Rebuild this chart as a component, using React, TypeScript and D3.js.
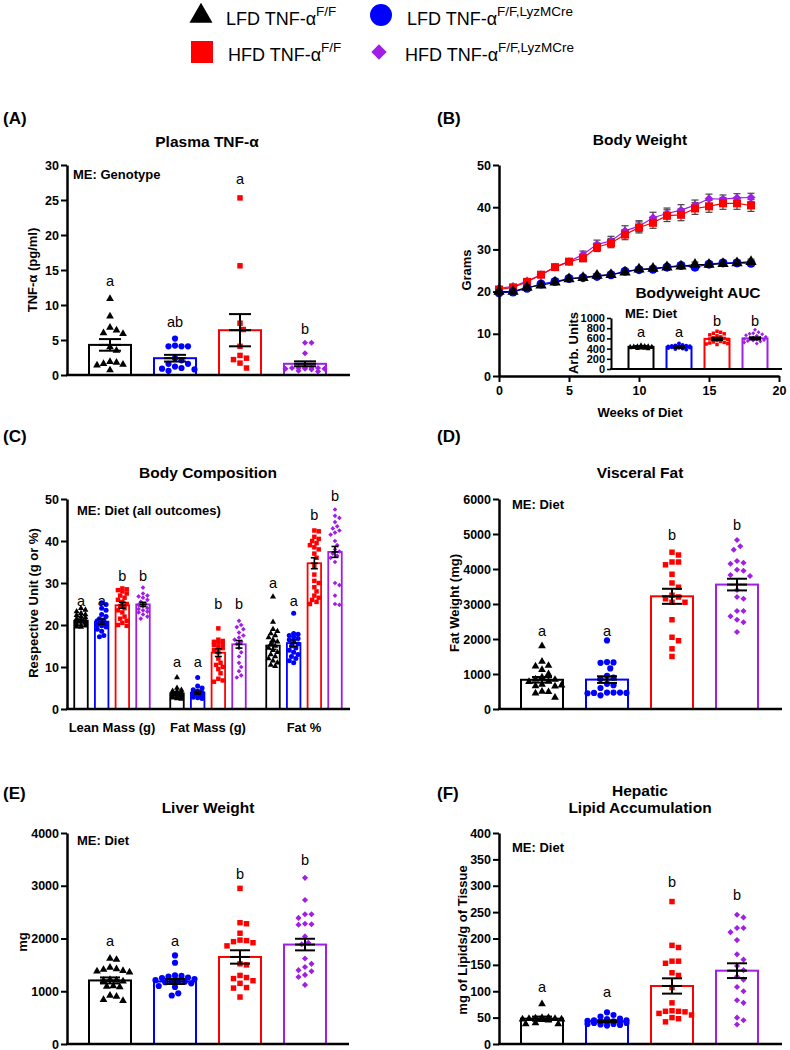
import React, { useRef, useEffect } from "react";
import * as d3 from "d3";

const FONT = "'Liberation Sans', Arial, Helvetica, sans-serif";

// groups (order: LFD F/F, LFD LyzMCre, HFD F/F, HFD LyzMCre)
const groupColors = ["#000000", "#0000ff", "#ff0000", "#a01ee6"];
const diamond = (d3 as any).symbolDiamond2 || d3.symbolDiamond;
const groupSymbols = [d3.symbolTriangle, d3.symbolCircle, d3.symbolSquare, diamond];
const legendMain = ["LFD TNF-\u03b1", "LFD TNF-\u03b1", "HFD TNF-\u03b1", "HFD TNF-\u03b1"];
const legendSup = ["F/F", "F/F,LyzMCre", "F/F", "F/F,LyzMCre"];

// (A) Plasma TNF-α
const tnfPoints = [
  [10.9, 8.4, 6.8, 6.4, 6.0, 5.9, 4.0, 3.5, 1.9, 1.8, 1.6, 1.5, 1.4, 0.7],
  [5.2, 4.2, 4.1, 4.1, 4.1, 2.4, 2.1, 1.6, 1.6, 1.2, 1.0, 0.9, 0.8, 0.6],
  [25.3, 15.6, 7.4, 6.5, 4.1, 2.8, 2.4, 2.2, 1.7, 1.0],
  [4.6, 4.6, 3.1, 1.0, 1.0, 1.0, 0.9, 0.9, 0.9, 1.0, 1.1, 0.8, 0.6, 0.5],
];
const tnfMeans = [4.3, 2.4, 6.4, 1.6];
const tnfSems = [0.83, 0.48, 2.3, 0.35];
const tnfLetters = ["a", "ab", "a", "b"];
const tnfLetterAt = [13.3, 7.4, 27.9, 6.4];
const tnfTicks = [0, 5, 10, 15, 20, 25, 30];

// (B) Body weight
const weeks = [0, 1, 2, 3, 4, 5, 6, 7, 8, 9, 10, 11, 12, 13, 14, 15, 16, 17, 18];
const bwMeans = [
  [20.0, 20.0, 21.0, 21.5, 22.2, 23.0, 23.3, 23.8, 24.0, 24.6, 25.3, 25.5, 25.8, 26.0, 26.4, 26.4, 26.6, 26.8, 27.1],
  [19.7, 19.9, 20.8, 21.8, 22.4, 23.1, 23.3, 23.6, 24.0, 24.8, 25.2, 25.3, 25.8, 26.2, 25.8, 26.5, 26.8, 26.8, 26.7],
  [20.5, 21.0, 22.3, 24.0, 25.8, 27.1, 27.9, 30.5, 31.5, 33.5, 35.2, 36.3, 38.0, 38.2, 39.7, 40.2, 40.9, 40.9, 40.4],
  [20.8, 21.2, 22.5, 24.0, 25.8, 27.1, 28.8, 31.2, 32.0, 34.4, 35.5, 37.5, 38.5, 39.3, 40.5, 42.0, 41.9, 42.2, 42.3],
];
const bwSems = [
  [0.3, 0.3, 0.3, 0.4, 0.4, 0.4, 0.4, 0.4, 0.5, 0.5, 0.5, 0.5, 0.5, 0.5, 0.6, 0.6, 0.6, 0.6, 0.6],
  [0.3, 0.3, 0.3, 0.4, 0.4, 0.4, 0.4, 0.4, 0.5, 0.5, 0.5, 0.5, 0.5, 0.5, 0.6, 0.6, 0.6, 0.6, 0.6],
  [0.4, 0.4, 0.5, 0.5, 0.6, 0.6, 0.8, 1.0, 1.1, 1.2, 1.3, 1.3, 1.4, 1.4, 1.4, 1.4, 1.4, 1.4, 1.4],
  [0.4, 0.4, 0.5, 0.5, 0.6, 0.6, 0.8, 1.0, 1.1, 1.2, 1.3, 1.3, 1.3, 1.3, 1.2, 1.1, 1.0, 1.0, 1.0],
];
const bwDrawOrder = [3, 2, 1, 0];
const bwXTicks = [0, 5, 10, 15, 20];
const bwYTicks = [0, 10, 20, 30, 40, 50];

// (B) inset: Bodyweight AUC
const aucPoints = [
  [470, 455, 450, 450, 445, 440, 440, 435, 430, 430, 425, 420, 420, 415, 410, 405, 400, 395],
  [500, 470, 460, 455, 450, 445, 440, 440, 435, 430, 430, 425, 420, 415, 410, 400, 390, 380],
  [740, 720, 700, 690, 670, 650, 630, 610, 600, 590, 580, 560, 540, 530, 520, 510, 500, 490, 480],
  [770, 720, 700, 690, 680, 660, 650, 630, 620, 610, 600, 590, 580, 570, 560, 550, 540, 520, 500],
];
const aucMeans = [435, 432, 590, 600];
const aucSems = [6, 7, 15, 14];
const aucLetters = ["a", "a", "b", "b"];
const aucLetterAt = [706, 706, 922, 922];
const aucTicks = [0, 200, 400, 600, 800, 1000];

// (C) Body composition
const compCats = ["Lean Mass (g)", "Fat Mass (g)", "Fat %"];
const compPoints = [
  [
    [24.0, 23.6, 23.2, 22.8, 22.5, 22.3, 22.0, 21.8, 21.5, 21.2, 21.0, 20.9, 20.8, 20.5, 20.2, 20.0, 19.8, 19.6, 19.5],
    [25.3, 24.9, 24.0, 23.5, 22.5, 22.0, 21.5, 21.2, 21.0, 20.5, 20.3, 20.0, 19.8, 19.5, 19.0, 18.5, 17.5, 17.2],
    [28.7, 28.5, 28.3, 28.0, 27.5, 27.0, 26.5, 26.0, 25.5, 25.0, 24.5, 24.0, 23.5, 23.0, 22.0, 21.5, 21.0, 20.5, 20.0, 19.8],
    [28.9, 27.5, 27.0, 26.8, 26.5, 26.0, 25.5, 25.0, 24.8, 24.5, 24.0, 23.8, 23.5, 23.2, 23.0, 22.5, 22.0, 21.5],
  ],
  [
    [7.5, 5.0, 4.5, 4.3, 4.2, 4.0, 3.8, 3.7, 3.6, 3.5, 3.4, 3.2, 3.0, 3.0, 2.8, 2.7, 2.5, 2.4],
    [7.5, 5.5, 5.0, 4.6, 4.3, 4.0, 3.9, 3.8, 3.7, 3.5, 3.3, 3.0, 2.8, 2.7, 2.5],
    [19.2, 16.5, 16.2, 16.0, 15.8, 15.5, 15.2, 14.8, 14.5, 14.0, 13.5, 12.0, 11.0, 10.5, 10.0, 9.5, 8.5, 7.2, 6.8, 6.5],
    [21.0, 20.0, 19.5, 19.0, 18.2, 17.5, 17.0, 16.5, 16.0, 15.5, 14.5, 13.5, 12.5, 11.0, 10.0, 9.0, 8.0, 7.5],
  ],
  [
    [26.7, 20.7, 19.0, 18.5, 18.0, 17.5, 17.0, 16.5, 16.0, 15.5, 15.0, 14.5, 14.0, 13.5, 13.0, 12.5, 12.0, 11.5, 11.0, 10.5, 10.2],
    [22.8, 18.0, 17.8, 17.5, 17.2, 16.8, 16.5, 16.0, 15.5, 15.0, 14.5, 14.0, 13.5, 13.0, 12.5, 12.0, 11.5, 11.0],
    [42.5, 42.3, 41.0, 40.5, 40.0, 39.5, 39.0, 38.5, 38.0, 37.0, 36.0, 34.0, 32.0, 30.5, 30.0, 29.0, 28.0, 27.0, 26.5, 26.0, 25.5, 25.0],
    [47.5, 46.0, 45.5, 44.5, 43.5, 43.0, 42.5, 42.0, 41.5, 40.0, 39.0, 38.0, 37.5, 37.0, 36.5, 36.0, 35.0, 30.0, 29.5, 27.0, 25.0, 24.8],
  ],
];
const compMeans = [
  [21.0, 20.8, 24.7, 24.9],
  [3.7, 3.9, 13.4, 15.4],
  [15.1, 15.7, 34.7, 37.4],
];
const compSems = [
  [0.4, 0.6, 0.7, 0.5],
  [0.3, 0.35, 0.9, 0.9],
  [0.9, 0.8, 1.3, 1.3],
];
const compLetters = [
  ["a", "a", "b", "b"],
  ["a", "a", "b", "b"],
  ["a", "a", "b", "b"],
];
const compLetterAt = [
  [25.6, 25.6, 31.5, 31.5],
  [10.9, 10.9, 24.8, 24.8],
  [29.8, 25.4, 46.0, 50.4],
];
const compTicks = [0, 10, 20, 30, 40, 50];

// (D) Visceral fat
const vfPoints = [
  [1800, 1360, 1240, 1220, 1120, 1000, 910, 850, 840, 790, 780, 700, 680, 660, 650, 500, 490, 450, 330],
  [1960, 1340, 1330, 1320, 1160, 950, 900, 860, 720, 680, 600, 470, 470, 470, 460, 460, 450, 390],
  [4480, 4400, 4200, 4200, 4120, 3850, 3600, 3480, 3250, 3200, 3150, 3050, 3050, 2550, 2050, 1950, 1720, 1500],
  [4830, 4650, 4550, 4230, 4180, 4150, 3980, 3950, 3830, 3800, 3400, 3200, 3150, 2800, 2800, 2650, 2550, 2480, 2200],
];
const vfMeans = [835, 840, 3220, 3555];
const vfSems = [80, 95, 215, 167];
const vfLetters = ["a", "a", "b", "b"];
const vfLetterAt = [2190, 2190, 4933, 5219];
const vfTicks = [0, 1000, 2000, 3000, 4000, 5000, 6000];

// (E) Liver weight
const lwPoints = [
  [1620, 1600, 1450, 1420, 1410, 1390, 1380, 1360, 1220, 1210, 1200, 1190, 1100, 1090, 1080, 920, 900, 840, 820],
  [1680, 1540, 1300, 1290, 1280, 1260, 1250, 1230, 1210, 1200, 1190, 1180, 1170, 1150, 1100, 1080, 960, 920],
  [2950, 2300, 2280, 2100, 1970, 1960, 1940, 1920, 1860, 1520, 1500, 1300, 1260, 1240, 1200, 1150, 1070, 1060, 890],
  [3150, 2730, 2460, 2460, 2390, 2280, 2270, 2260, 2040, 1920, 1890, 1620, 1520, 1460, 1400, 1380, 1310, 1270, 1120],
];
const lwMeans = [1205, 1185, 1650, 1885];
const lwSems = [57, 48, 127, 110];
const lwLetters = ["a", "a", "b", "b"];
const lwLetterAt = [1943, 1943, 3209, 3462];
const lwTicks = [0, 1000, 2000, 3000, 4000];

// (F) Hepatic lipid accumulation
const hlPoints = [
  [76, 50, 50, 49, 48, 48, 47, 47, 46, 45, 40, 38, 38],
  [60, 55, 52, 48, 47, 45, 45, 44, 43, 42, 42, 42, 40, 40, 38, 38, 37, 36, 35],
  [270, 187, 183, 157, 157, 153, 135, 130, 107, 78, 63, 62, 62, 61, 58, 55, 50, 48, 42],
  [245, 240, 220, 220, 212, 197, 170, 160, 148, 140, 128, 122, 108, 100, 83, 78, 50, 45, 37],
];
const hlMeans = [48, 43, 110, 139];
const hlSems = [4, 2, 14.5, 14];
const hlLetters = ["a", "a", "b", "b"];
const hlLetterAt = [107, 97, 306, 280];
const hlTicks = [0, 50, 100, 150, 200, 250, 300, 350, 400];

function beeswarm(vals: number[], y: (v: number) => number, d: number, maxOff: number): number[] {
  const order = d3.range(vals.length).sort((a, b) => d3.descending(vals[a], vals[b]));
  const placed: [number, number][] = [];
  const offs: number[] = new Array(vals.length).fill(0);
  const step = d / 2;
  const n = Math.max(0, Math.floor(maxOff / step));
  const cands = [0];
  for (let k = 1; k <= n; k++) cands.push(k * step, -k * step);
  for (const i of order) {
    const py = y(vals[i]);
    let best = 0;
    let bestCost = Infinity;
    for (const c of cands) {
      let cost = 0;
      for (const [px, qy] of placed) {
        const dist = Math.hypot(px - c, qy - py);
        if (dist < d) cost += d - dist;
      }
      if (cost < bestCost - 1e-9) {
        bestCost = cost;
        best = c;
      }
      if (cost === 0) break;
    }
    placed.push([best, py]);
    offs[i] = best;
  }
  return offs;
}

function text(g: any, x: number, y: number, s: string, size: number, weight = "bold", anchor = "middle", rotate = false) {
  const t = g
    .append("text")
    .attr("x", rotate ? 0 : x)
    .attr("y", rotate ? 0 : y)
    .attr("dy", "0.35em")
    .attr("text-anchor", anchor)
    .attr("font-family", FONT)
    .attr("font-size", size)
    .attr("font-weight", weight)
    .attr("fill", "#000")
    .text(s);
  if (rotate) t.attr("transform", `translate(${x},${y}) rotate(-90)`);
  return t;
}

function styleAxis(ax: any, size: number, weight = "bold", lw = 2.5) {
  ax.select(".domain").attr("stroke", "#000").attr("stroke-width", lw);
  ax.selectAll(".tick line").attr("stroke", "#000").attr("stroke-width", lw * 0.8);
  ax.selectAll(".tick text")
    .attr("font-family", FONT)
    .attr("font-size", size)
    .attr("font-weight", weight)
    .attr("fill", "#000");
}

type BarItem = { cx: number; gi: number; pts: number[]; mean: number; sem: number; letter: string; letterAt: number };

function barPanel(svg: any, o: any, items: BarItem[]) {
  const y = d3.scaleLinear().domain([0, o.yMax]).range([o.bottom, o.top]);
  const g = svg.append("g");
  items.forEach((it) => {
    const col = groupColors[it.gi];
    g.append("rect")
      .attr("x", it.cx - o.barW / 2)
      .attr("y", y(it.mean))
      .attr("width", o.barW)
      .attr("height", o.bottom - y(it.mean))
      .attr("fill", "#fff")
      .attr("stroke", col)
      .attr("stroke-width", o.barStroke || 2);
  });
  items.forEach((it) => {
    const col = groupColors[it.gi];
    const offs = beeswarm(it.pts, y, o.dotD, o.barW / 2 - 1.5);
    it.pts.forEach((v, j) => {
      g.append("path")
        .attr("d", d3.symbol(groupSymbols[it.gi], o.symSize[it.gi])())
        .attr("transform", `translate(${it.cx + offs[j]},${y(v)})`)
        .attr("fill", col);
    });
  });
  items.forEach((it) => {
    const hi = y(it.mean + it.sem);
    const lo = y(it.mean - it.sem);
    const eb = g.append("g").attr("stroke", "#000").attr("stroke-width", o.ebW || 2);
    eb.append("line").attr("x1", it.cx).attr("x2", it.cx).attr("y1", hi).attr("y2", lo);
    eb.append("line").attr("x1", it.cx - o.capW / 2).attr("x2", it.cx + o.capW / 2).attr("y1", hi).attr("y2", hi);
    eb.append("line").attr("x1", it.cx - o.capW / 2).attr("x2", it.cx + o.capW / 2).attr("y1", lo).attr("y2", lo);
    eb.append("line").attr("x1", it.cx - o.capW / 2).attr("x2", it.cx + o.capW / 2).attr("y1", y(it.mean)).attr("y2", y(it.mean));
    text(g, it.cx, y(it.letterAt) - 1, it.letter, o.letterSize || 14.5, "normal");
  });
  const ax = g
    .append("g")
    .attr("transform", `translate(${o.left},0)`)
    .call(d3.axisLeft(y).tickValues(o.ticks).tickSize(o.tickLen || 6).tickSizeOuter(0).tickPadding(2).tickFormat(d3.format("d")));
  styleAxis(ax, o.tickSize || 12.5, o.tickWeight || "bold", o.axisW || 2.5);
  g.append("line")
    .attr("x1", o.left - 1)
    .attr("x2", o.right)
    .attr("y1", o.bottom)
    .attr("y2", o.bottom)
    .attr("stroke", "#000")
    .attr("stroke-width", o.axisW || 2.5);
  return y;
}

function fourBars(centers: number[], pts: number[][], means: number[], sems: number[], letters: string[], at: number[]): BarItem[] {
  return centers.map((cx, i) => ({ cx, gi: i, pts: pts[i], mean: means[i], sem: sems[i], letter: letters[i], letterAt: at[i] }));
}

const bigSyms = [26, 30, 30, 24];

function draw(svg: any) {
  svg.append("rect").attr("width", 790).attr("height", 1050).attr("fill", "#fff");

  // legend
  const legPos = [
    [201, 16, 226, 25],
    [381, 15, 407, 25],
    [202, 52, 228, 61],
    [379, 52, 405, 61],
  ];
  const legSizes = [230, 380, 484, 150];
  legPos.forEach(([sx, sy, tx, ty], i) => {
    svg
      .append("path")
      .attr("d", d3.symbol(groupSymbols[i], legSizes[i])())
      .attr("transform", `translate(${sx},${sy})`)
      .attr("fill", groupColors[i]);
    const t = svg.append("text").attr("x", tx).attr("y", ty).attr("font-family", FONT).attr("font-size", 18).attr("fill", "#000");
    t.append("tspan").text(legendMain[i]);
    t.append("tspan").attr("dy", -9.5).attr("font-size", 13.5).text(legendSup[i]);
  });

  // panel letters
  const panelLabels: [string, number, number][] = [
    ["(A)", 3, 118],
    ["(B)", 437, 118],
    ["(C)", 3, 436],
    ["(D)", 437, 436],
    ["(E)", 3, 793],
    ["(F)", 437, 793],
  ];
  panelLabels.forEach(([s, x, y]) => text(svg, x, y, s, 17, "bold", "start"));

  const pA = d3.scalePoint<number>().domain([0, 1, 2, 3]).range([110, 305]);
  const pD = d3.scalePoint<number>().domain([0, 1, 2, 3]).range([542, 737]);
  const leftCenters = [0, 1, 2, 3].map((i) => pA(i) as number);
  const rightCenters = [0, 1, 2, 3].map((i) => pD(i) as number);

  // (A)
  text(svg, 207, 142, "Plasma TNF-\u03b1", 15.5);
  barPanel(
    svg,
    { left: 67, right: 350, top: 165, bottom: 375, yMax: 30, ticks: tnfTicks, barW: 42, capW: 22, dotD: 6.5, symSize: bigSyms },
    fourBars(leftCenters, tnfPoints, tnfMeans, tnfSems, tnfLetters, tnfLetterAt)
  );
  text(svg, 73, 174, "ME: Genotype", 13, "bold", "start");
  text(svg, 32, 270, "TNF-\u03b1 (pg/ml)", 13, "bold", "middle", true);

  // (B)
  text(svg, 640, 140, "Body Weight", 15.5);
  const xB = d3.scaleLinear().domain([0, 20]).range([499, 779]);
  const yB = d3.scaleLinear().domain([0, 50]).range([376, 165]);
  const gB = svg.append("g");
  bwDrawOrder.forEach((gi) => {
    const line = d3
      .line<number>()
      .x((_, i) => xB(weeks[i]))
      .y((v) => yB(v));
    gB.append("path").attr("d", line(bwMeans[gi])).attr("fill", "none").attr("stroke", groupColors[gi]).attr("stroke-width", 1.2);
  });
  bwDrawOrder.forEach((gi) => {
    const eb = gB.append("g").attr("stroke", "#444").attr("stroke-width", 1.2);
    bwMeans[gi].forEach((v, i) => {
      const s = bwSems[gi][i];
      const x = xB(weeks[i]);
      eb.append("line").attr("x1", x).attr("x2", x).attr("y1", yB(v + s)).attr("y2", yB(v - s));
      eb.append("line").attr("x1", x - 3.5).attr("x2", x + 3.5).attr("y1", yB(v + s)).attr("y2", yB(v + s));
      eb.append("line").attr("x1", x - 3.5).attr("x2", x + 3.5).attr("y1", yB(v - s)).attr("y2", yB(v - s));
    });
  });
  const bwSyms = [55, 64, 64, 50];
  bwDrawOrder.forEach((gi) => {
    bwMeans[gi].forEach((v, i) => {
      gB.append("path")
        .attr("d", d3.symbol(groupSymbols[gi], bwSyms[gi])())
        .attr("transform", `translate(${xB(weeks[i])},${yB(v)})`)
        .attr("fill", groupColors[gi]);
    });
  });
  const axBy = gB.append("g").attr("transform", "translate(499,0)").call(d3.axisLeft(yB).tickValues(bwYTicks).tickSize(6).tickSizeOuter(0).tickPadding(2));
  styleAxis(axBy, 12.5);
  const axBx = gB.append("g").attr("transform", "translate(0,376)").call(d3.axisBottom(xB).tickValues(bwXTicks).tickSize(6).tickSizeOuter(0).tickPadding(4));
  styleAxis(axBx, 12.5);
  text(svg, 640, 412, "Weeks of Diet", 13);
  text(svg, 466, 270, "Grams", 13, "bold", "middle", true);

  // (B) inset
  text(svg, 698, 293, "Bodyweight AUC", 15.5);
  const pI = d3.scalePoint<number>().domain([0, 1, 2, 3]).range([641, 755]);
  barPanel(
    svg,
    {
      left: 611, right: 782, top: 318, bottom: 369, yMax: 1000, ticks: aucTicks, barW: 25, capW: 12, dotD: 3.6,
      symSize: [10, 12, 12, 10], tickSize: 11, tickWeight: "bold", tickLen: 4, axisW: 2, letterSize: 14.5, ebW: 2.8,
    },
    fourBars([0, 1, 2, 3].map((i) => pI(i) as number), aucPoints, aucMeans, aucSems, aucLetters, aucLetterAt)
  );
  text(svg, 625, 313, "ME: Diet", 13, "bold", "start");
  text(svg, 573, 343, "Arb. Units", 13, "bold", "middle", true);

  // (C)
  text(svg, 208, 473, "Body Composition", 15.5);
  const xC = d3.scalePoint<string>().domain(compCats).range([112, 304]);
  const innerC = d3.scalePoint<number>().domain([0, 1, 2, 3]).range([-31, 31]);
  const compItems: BarItem[] = [];
  compCats.forEach((c, ci) => {
    [0, 1, 2, 3].forEach((gi) => {
      compItems.push({
        cx: (xC(c) as number) + (innerC(gi) as number),
        gi,
        pts: compPoints[ci][gi],
        mean: compMeans[ci][gi],
        sem: compSems[ci][gi],
        letter: compLetters[ci][gi],
        letterAt: compLetterAt[ci][gi],
      });
    });
  });
  barPanel(
    svg,
    { left: 67, right: 350, top: 499, bottom: 709, yMax: 50, ticks: compTicks, barW: 13.5, capW: 7, dotD: 4.4, symSize: [16, 20, 20, 14], barStroke: 1.8, ebW: 1.6 },
    compItems
  );
  compCats.forEach((c) => text(svg, xC(c) as number, 727, c, 13));
  text(svg, 77, 510, "ME: Diet (all outcomes)", 13, "bold", "start");
  text(svg, 33, 603, "Respective Unit (g or %)", 13, "bold", "middle", true);

  // (D)
  text(svg, 640, 473, "Visceral Fat", 15.5);
  barPanel(
    svg,
    { left: 499, right: 782, top: 499, bottom: 709, yMax: 6000, ticks: vfTicks, barW: 42, capW: 20, dotD: 6.5, symSize: bigSyms },
    fourBars(rightCenters, vfPoints, vfMeans, vfSems, vfLetters, vfLetterAt)
  );
  text(svg, 512, 504, "ME: Diet", 13, "bold", "start");
  text(svg, 454, 603, "Fat Weight (mg)", 13, "bold", "middle", true);

  // (E)
  text(svg, 208, 808, "Liver Weight", 15.5);
  barPanel(
    svg,
    { left: 67, right: 349, top: 833, bottom: 1044, yMax: 4000, ticks: lwTicks, barW: 42, capW: 20, dotD: 6.5, symSize: bigSyms },
    fourBars(leftCenters, lwPoints, lwMeans, lwSems, lwLetters, lwLetterAt)
  );
  text(svg, 77, 840, "ME: Diet", 13, "bold", "start");
  text(svg, 22, 942, "mg", 13, "bold", "middle", true);

  // (F)
  text(svg, 640, 791, "Hepatic", 15.5);
  text(svg, 640, 808, "Lipid Accumulation", 15.5);
  barPanel(
    svg,
    { left: 499, right: 782, top: 833, bottom: 1044, yMax: 400, ticks: hlTicks, barW: 42, capW: 20, dotD: 6.5, symSize: bigSyms },
    fourBars(rightCenters, hlPoints, hlMeans, hlSems, hlLetters, hlLetterAt)
  );
  text(svg, 512, 847, "ME: Diet", 13, "bold", "start");
  text(svg, 462, 940, "mg of Lipids/g of Tissue", 13, "bold", "middle", true);
}

export default function App() {
  const svgRef = useRef<SVGSVGElement>(null);
  useEffect(() => {
    const svg = d3.select(svgRef.current);
    svg.selectAll("*").remove();
    draw(svg);
  }, []);
  return (
    <svg
      ref={svgRef}
      width={790}
      height={1050}
      style={{ position: "absolute", left: 0, top: 0, display: "block", background: "#fff" }}
    />
  );
}
